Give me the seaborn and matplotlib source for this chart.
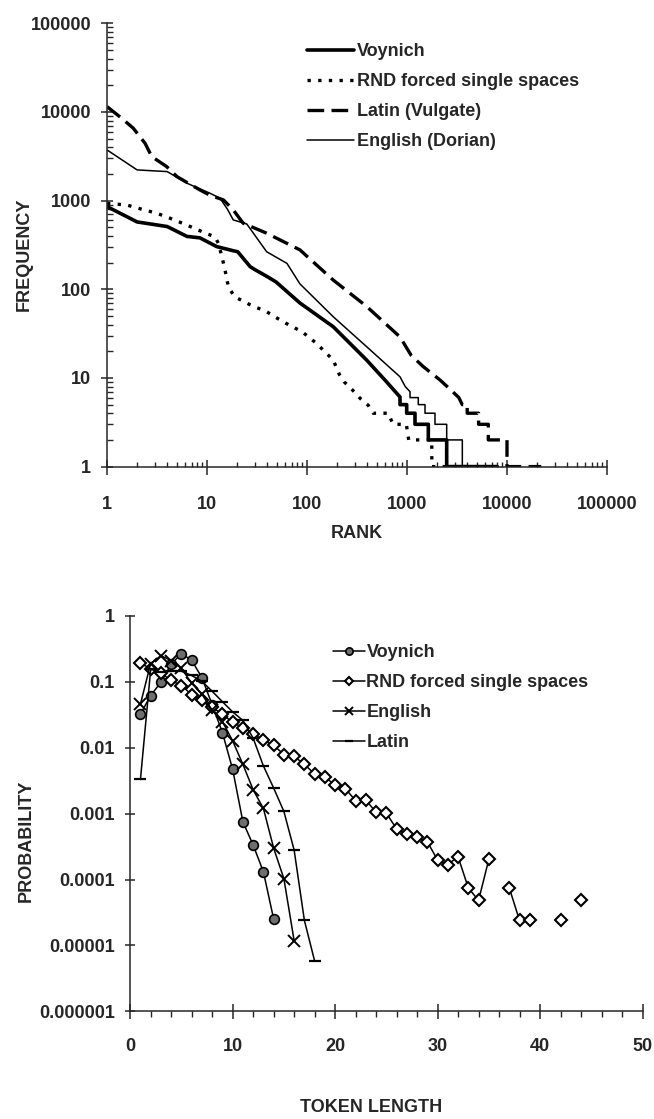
import numpy as np
import pandas as pd
import matplotlib
matplotlib.use("Agg")
import matplotlib.pyplot as plt
import matplotlib.ticker as mticker
import seaborn as sns

# ---------------- data: rank / frequency (top chart) ----------------
voy_rank = [1, 2, 4, 6.3, 8.5, 12.5, 18.3, 20.3, 27, 30, 40, 49, 85, 183, 395, 600, 851,
            851, 993, 993, 1202, 1202, 1634, 1634, 2494, 2494, 8000]
voy_freq = [856, 575, 510, 395, 380, 303, 272, 265, 180, 167, 139, 121, 70, 37.8, 15.9, 9.5, 6.1,
            5, 5, 4, 4, 3, 3, 2, 2, 1, 1]

rnd_rank = [1, 1.57, 2.22, 3.14, 4.27, 6, 7.85, 10.1, 12, 13, 14.1, 15.2, 16.4, 19, 26.9, 39.5,
            57.6, 90, 124, 183, 210, 236, 296, 339, 410, 460, 650, 725, 985, 1040, 1770, 1770, 4000]
rnd_freq = [930, 894, 800, 721, 633, 542, 475, 421, 390, 330, 233, 162, 105, 82, 67, 55.8,
            43, 33, 24.6, 15.9, 11, 9, 7, 5.9, 4.9, 4, 4, 3, 3, 2, 2, 1, 1]

lat_rank = [1, 1.4, 1.83, 2.4, 2.8, 3.95, 5, 8.5, 10.7, 14.6, 18.3, 23, 39.5, 85, 183, 395, 851,
            1100, 1455, 2135, 2748, 3300, 3565, 4000, 4000, 5200, 5200, 6500, 6500, 10000, 10000, 22000]
lat_freq = [11500, 8500, 6560, 4440, 3140, 2420, 1866, 1320, 1150, 1018, 785, 556, 429, 278, 127, 64, 29,
            18, 13.4, 9.5, 7.3, 6, 5, 5, 4, 4, 3, 3, 2, 2, 1, 1]

eng_rank = [1, 2, 4, 6.3, 10.7, 13.5, 16, 18.3, 25, 39.5, 63, 85, 183, 395, 851, 960, 1072,
            1072, 1297, 1297, 1514, 1514, 1905, 1905, 2494, 2494, 3575, 3575, 7000]
eng_freq = [3730, 2220, 2125, 1571, 1212, 1064, 800, 606, 545, 265, 196, 115, 49, 22.5, 10.3, 8, 7,
            6, 6, 5, 5, 4, 4, 3, 3, 2, 2, 1, 1]

top_ticks = [1, 10, 100, 1000, 10000, 100000]
top_ticklabels = ["1", "10", "100", "1000", "10000", "100000"]

# ---------------- data: token length / probability (bottom chart) ----------------
len_voy = list(range(1, 15))
p_voy = [0.0325, 0.062, 0.099, 0.185, 0.269, 0.212, 0.116, 0.045, 0.017, 0.0047,
         0.00075, 0.000334, 0.000131, 0.0000252]

len_rnd = list(range(1, 45))
p_rnd = [0.193, 0.158, 0.136, 0.105, 0.088, 0.064, 0.053, 0.041, 0.0325, 0.0242,
         0.0203, 0.0164, 0.013, 0.0109, 0.0079, 0.0074, 0.0056, 0.004, 0.0036, 0.0027,
         0.0024, 0.00157, 0.0016, 0.00105, 0.00102, 0.000586, 0.000486, 0.000443, 0.000376, 0.000197,
         0.000169, 0.000222, 0.0000745, 0.0000482, 0.000202, np.nan, 0.0000745, 0.0000239, 0.0000239, np.nan,
         np.nan, 0.0000239, np.nan, 0.0000482]

len_eng = list(range(1, 17))
p_eng = [0.046, 0.19, 0.25, 0.21, 0.16, 0.095, 0.065, 0.037, 0.025, 0.0127,
         0.0056, 0.0023, 0.0012, 0.0003, 0.000103, 0.0000118]

len_lat = list(range(1, 19))
p_lat = [0.0033, 0.155, 0.14, 0.145, 0.145, 0.125, 0.102, 0.072, 0.05, 0.035,
         0.026, 0.014, 0.0053, 0.00245, 0.00108, 0.00028, 0.000024, 0.0000058]

bot_yticks = [1e-6, 1e-5, 1e-4, 1e-3, 1e-2, 1e-1, 1]
bot_yticklabels = ["0.000001", "0.00001", "0.0001", "0.001", "0.01", "0.1", "1"]
bot_xticks = [0, 10, 20, 30, 40, 50]

# ---------------- style ----------------
sns.set_style("ticks")
plt.rcParams["font.family"] = ["Liberation Sans", "DejaVu Sans"]
plt.rcParams["font.weight"] = "bold"
plt.rcParams["axes.linewidth"] = 1.1
FS = 13

W, H = 654, 1119
fig = plt.figure(figsize=(W / 100, H / 100), dpi=100)
fig.patch.set_facecolor("white")

# ================= top chart =================
l1, r1, t1, b1 = 107, 607, 23.3, 466.6
ax1 = fig.add_axes([l1 / W, 1 - b1 / H, (r1 - l1) / W, (b1 - t1) / H])
ax1.set_xscale("log")
ax1.set_yscale("log")

top_series = [
    ("Voynich", voy_rank, voy_freq, dict(lw=2.6, linestyle="-")),
    ("RND forced single spaces", rnd_rank, rnd_freq, dict(lw=2.4, linestyle=(0, (1.0, 2.2)))),
    ("Latin (Vulgate)", lat_rank, lat_freq, dict(lw=2.4, linestyle=(0, (5, 2.2)))),
    ("English (Dorian)", eng_rank, eng_freq, dict(lw=1.1, linestyle="-")),
]
for name, rr, ff, st in top_series:
    sns.lineplot(x=rr, y=ff, ax=ax1, sort=False, estimator=None, color="black",
                 label=name, **st)

ax1.set_xlim(1, 100000)
ax1.set_ylim(1, 100000)
ax1.set_xticks(top_ticks)
ax1.set_xticklabels(top_ticklabels)
ax1.set_yticks(top_ticks)
ax1.set_yticklabels(top_ticklabels)
ax1.xaxis.set_minor_locator(mticker.LogLocator(base=10, subs=np.arange(2, 10)))
ax1.yaxis.set_minor_locator(mticker.LogLocator(base=10, subs=np.arange(2, 10)))
ax1.xaxis.set_minor_formatter(mticker.NullFormatter())
ax1.yaxis.set_minor_formatter(mticker.NullFormatter())
for s in ("top", "right"):
    ax1.spines[s].set_visible(False)
ax1.tick_params(axis="y", which="major", direction="inout", length=8.6, width=1.1, pad=7.2, labelsize=FS)
ax1.tick_params(axis="y", which="minor", direction="in", length=4, width=1.0)
ax1.tick_params(axis="x", which="major", direction="inout", length=10.8, width=1.1, pad=16, labelsize=FS)
ax1.tick_params(axis="x", which="minor", direction="in", length=3.6, width=1.0)
for lab in ax1.get_xticklabels() + ax1.get_yticklabels():
    lab.set_fontweight("bold")

ax1.set_ylabel("FREQUENCY", fontsize=FS, fontweight="bold")
ax1.yaxis.set_label_coords((24 - l1) / (r1 - l1), (b1 - 254) / (b1 - t1))
ax1.yaxis.label.set_va("center")
ax1.set_xlabel("RANK", fontsize=FS, fontweight="bold")
ax1.xaxis.set_label_coords((357 - l1) / (r1 - l1), (b1 - 534) / (b1 - t1))
ax1.xaxis.label.set_va("center")

ax1.legend(loc="upper left", bbox_to_anchor=(307 / W, 1 - 43 / H), bbox_transform=fig.transFigure,
           frameon=False, fontsize=FS, handlelength=2.6, handletextpad=0.15,
           labelspacing=0.72, borderpad=0, borderaxespad=0)

# ================= bottom chart =================
l2, r2, t2, b2 = 130.2, 642.5, 616, 1011.3
ax2 = fig.add_axes([l2 / W, 1 - b2 / H, (r2 - l2) / W, (b2 - t2) / H])
ax2.set_yscale("log")

df_rnd = pd.DataFrame({"len": len_rnd, "p": p_rnd})
df_rnd["seg"] = df_rnd["p"].isna().cumsum()
df_rnd = df_rnd.dropna()

common = dict(sort=False, estimator=None, color="black", lw=1.1, markeredgecolor="black")
sns.lineplot(x=len_voy, y=p_voy, ax=ax2, marker="o", markersize=7, markerfacecolor="#6e6e6e",
             markeredgewidth=1.2, label="Voynich", **common)
sns.lineplot(data=df_rnd, x="len", y="p", units="seg", ax=ax2, marker="D", markersize=6,
             markerfacecolor="white", markeredgewidth=1.5, label="RND forced single spaces", **common)
sns.lineplot(x=len_eng, y=p_eng, ax=ax2, marker="x", markersize=8, markeredgewidth=1.4,
             label="English", **common)
sns.lineplot(x=len_lat, y=p_lat, ax=ax2, marker="_", markersize=8, markeredgewidth=1.6,
             label="Latin", **common)

ax2.set_xlim(0, 50)
ax2.set_ylim(1e-6, 1)
ax2.set_xticks(bot_xticks)
ax2.set_xticklabels([str(v) for v in bot_xticks])
ax2.set_yticks(bot_yticks)
ax2.set_yticklabels(bot_yticklabels)
ax2.yaxis.set_minor_locator(mticker.NullLocator())
ax2.xaxis.set_minor_locator(mticker.MultipleLocator(2))
for s in ("top", "right"):
    ax2.spines[s].set_visible(False)
ax2.tick_params(axis="y", which="major", direction="inout", length=7.2, width=1.1, pad=7.6, labelsize=FS)
ax2.tick_params(axis="x", which="major", direction="inout", length=10.8, width=1.1, pad=14, labelsize=FS)
ax2.tick_params(axis="x", which="minor", direction="out", length=4.3, width=1.0)
for lab in ax2.get_xticklabels() + ax2.get_yticklabels():
    lab.set_fontweight("bold")

ax2.set_ylabel("PROBABILITY", fontsize=FS, fontweight="bold")
ax2.yaxis.set_label_coords((26 - l2) / (r2 - l2), (b2 - 841) / (b2 - t2))
ax2.yaxis.label.set_va("center")
ax2.set_xlabel("TOKEN LENGTH", fontsize=FS, fontweight="bold")
ax2.xaxis.set_label_coords((371 - l2) / (r2 - l2), (b2 - 1107) / (b2 - t2))
ax2.xaxis.label.set_va("center")

h, lab = ax2.get_legend_handles_labels()
uniq = {}
for hh, ll in zip(h, lab):
    uniq.setdefault(ll, hh)
ax2.legend(list(uniq.values()), list(uniq.keys()), loc="upper left",
           bbox_to_anchor=(333 / W, 1 - 644 / H), bbox_transform=fig.transFigure,
           frameon=False, fontsize=FS, handlelength=1.75, handletextpad=0.1,
           labelspacing=0.72, borderpad=0, borderaxespad=0, markerscale=0.75)

fig.savefig("out.png", dpi=100, facecolor="white")
